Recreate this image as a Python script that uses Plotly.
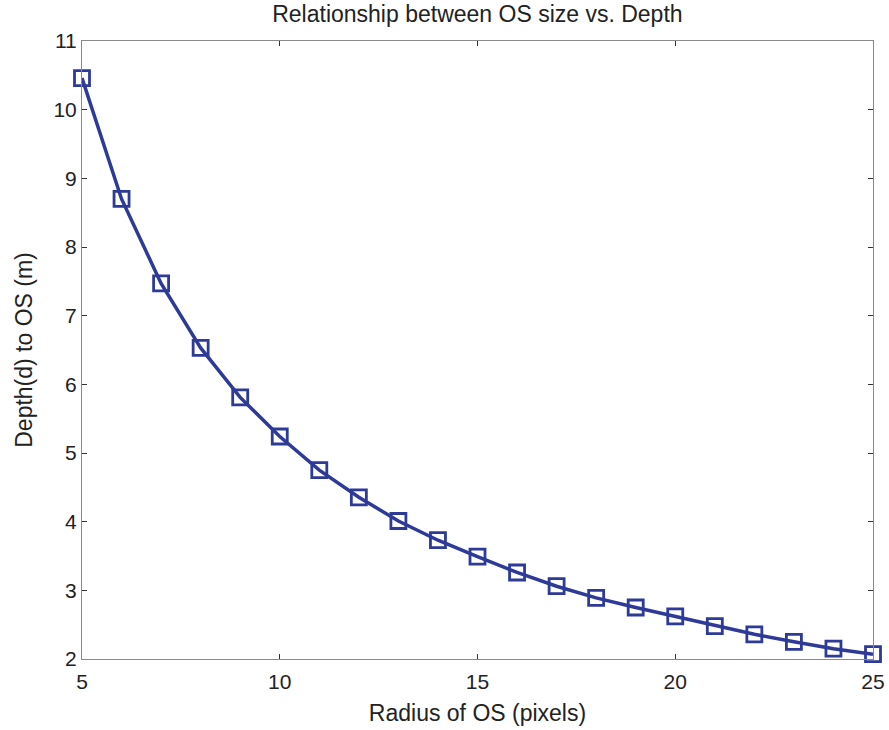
import plotly.graph_objects as go

radius = [5, 6, 7, 8, 9, 10, 11, 12, 13, 14, 15, 16, 17, 18, 19, 20, 21, 22, 23, 24, 25]
depth = [10.46, 8.70, 7.47, 6.53, 5.81, 5.24, 4.75, 4.355, 4.01, 3.73, 3.49, 3.26,
         3.06, 2.89, 2.75, 2.62, 2.48, 2.36, 2.25, 2.15, 2.07]

x_ticks = [5, 10, 15, 20, 25]
y_ticks = [2, 3, 4, 5, 6, 7, 8, 9, 10, 11]

color = "#2D3A98"
font = "Liberation Sans, Arial, sans-serif"

fig = go.Figure()
fig.add_trace(go.Scatter(
    x=radius, y=depth, mode="lines+markers",
    line=dict(color=color, width=3.5),
    marker=dict(symbol="square-open", size=15, color=color, line=dict(width=2.8, color=color)),
    showlegend=False, cliponaxis=False,
))

axis_common = dict(
    showgrid=False, zeroline=False, showline=True, linecolor="#8a8a8a", linewidth=1,
    mirror="ticks", ticks="inside", ticklen=5, tickcolor="#333333", tickwidth=1,
    tickfont=dict(family=font, size=21, color="#222222"), automargin=False,
)

fig.update_layout(
    width=889, height=730,
    margin=dict(l=82, r=16, t=41, b=71),
    paper_bgcolor="white", plot_bgcolor="white",
    title=dict(text="Relationship between OS size vs. Depth", x=0.537, xanchor="center",
               y=0.992, yanchor="top", font=dict(family=font, size=23, color="#222222")),
    xaxis=dict(range=[5, 25], tickvals=x_ticks, ticklabelstandoff=4,
               title=dict(text="Radius of OS (pixels)", standoff=12,
                          font=dict(family=font, size=23, color="#222222")), **axis_common),
    yaxis=dict(range=[2, 11], tickvals=y_ticks,
               title=dict(text="Depth(d) to OS (m)", standoff=14,
                          font=dict(family=font, size=23, color="#222222")), **axis_common),
)

fig.write_html("out.html")
